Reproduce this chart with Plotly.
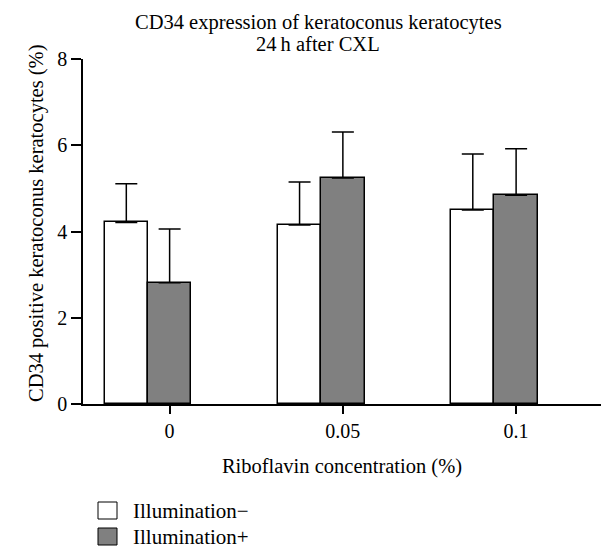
import plotly.graph_objects as go

categories = ["0", "0.05", "0.1"]
illum_minus = [4.21, 4.15, 4.50]
illum_minus_sd = [0.90, 1.00, 1.30]
illum_plus = [2.81, 5.24, 4.84]
illum_plus_sd = [1.25, 1.07, 1.08]
series_names = ["Illumination\u2212", "Illumination+"]
y_ticks = [0, 2, 4, 6, 8]
title_lines = ["CD34 expression of keratoconus keratocytes", "24\u2009h after CXL"]
y_title = "CD34 positive keratoconus keratocytes (%)"
x_title = "Riboflavin concentration (%)"

FONT = "Liberation Serif"
W, H = 601, 548
ML, MR, MT, MB = 83, 0, 59, 144
PW, PH = W - ML - MR, H - MT - MB

def px_x(px):
    return (px - ML) / PW

def px_y(py):
    return (H - MB - py) / PH

bw = 0.25
fig = go.Figure()
fig.add_trace(go.Bar(
    x=categories, y=illum_minus, name=series_names[0],
    width=bw, offset=-1.5 * bw,
    marker=dict(color="white", line=dict(color="black", width=1.5)),
    error_y=dict(type="data", array=illum_minus_sd, arrayminus=[0] * 3, symmetric=False,
                 color="black", thickness=1.5, width=11),
    showlegend=False,
))
fig.add_trace(go.Bar(
    x=categories, y=illum_plus, name=series_names[1],
    width=bw, offset=-0.5 * bw,
    marker=dict(color="#808080", line=dict(color="black", width=1.5)),
    error_y=dict(type="data", array=illum_plus_sd, arrayminus=[0] * 3, symmetric=False,
                 color="black", thickness=1.5, width=11),
    showlegend=False,
))

# legend drawn manually (large square swatches like the original)
for i, (name, col) in enumerate(zip(series_names, ["white", "#808080"])):
    top = 502 + i * 26
    fig.add_shape(type="rect", xref="paper", yref="paper",
                  x0=px_x(98), x1=px_x(117), y0=px_y(top + 17), y1=px_y(top),
                  fillcolor=col, line=dict(color="black", width=1))
    fig.add_annotation(text=name, xref="paper", yref="paper",
                       x=px_x(131), y=px_y(top + 9), xanchor="left", yanchor="middle",
                       showarrow=False, font=dict(family=FONT, size=21, color="black"))

# two-line title
for i, line in enumerate(title_lines):
    fig.add_annotation(text=line, xref="paper", yref="paper",
                       x=px_x(318), y=px_y(22 + i * 22), xanchor="center", yanchor="middle",
                       showarrow=False, font=dict(family=FONT, size=20.5, color="black"))

# y axis title (placed like the original, slightly above the plot centre)
fig.add_annotation(text=y_title, xref="paper", yref="paper", textangle=-90,
                   x=px_x(37), y=px_y(223), xanchor="center", yanchor="middle",
                   showarrow=False, font=dict(family=FONT, size=20.5, color="black"))

# x axis line extends slightly left of the y axis
fig.add_shape(type="line", xref="paper", yref="paper",
              x0=px_x(73), x1=0, y0=0, y1=0, line=dict(color="black", width=1.5))

fig.update_layout(
    width=W, height=H,
    margin=dict(l=ML, r=MR, t=MT, b=MB),
    paper_bgcolor="white", plot_bgcolor="white",
    font=dict(family=FONT, size=20, color="black"),
    bargap=0,
)
fig.update_xaxes(
    range=[-0.5, 2.49], showline=True, linecolor="black", linewidth=1.5,
    ticks="outside", ticklen=8, tickwidth=1.5, tickcolor="black",
    showgrid=False, zeroline=False, tickfont=dict(size=20),
    title=dict(text=x_title, standoff=18, font=dict(family=FONT, size=20.5)),
)
fig.update_yaxes(
    range=[0, 8], tickvals=y_ticks, showline=True, linecolor="black", linewidth=1.5,
    ticks="outside", ticklen=10, tickwidth=1.5, tickcolor="black",
    showgrid=False, zeroline=False, tickfont=dict(size=20),
)

fig.write_html("out.html", config={"displayModeBar": False},
               post_script="document.body.style.margin='0';document.body.style.overflow='hidden';")
